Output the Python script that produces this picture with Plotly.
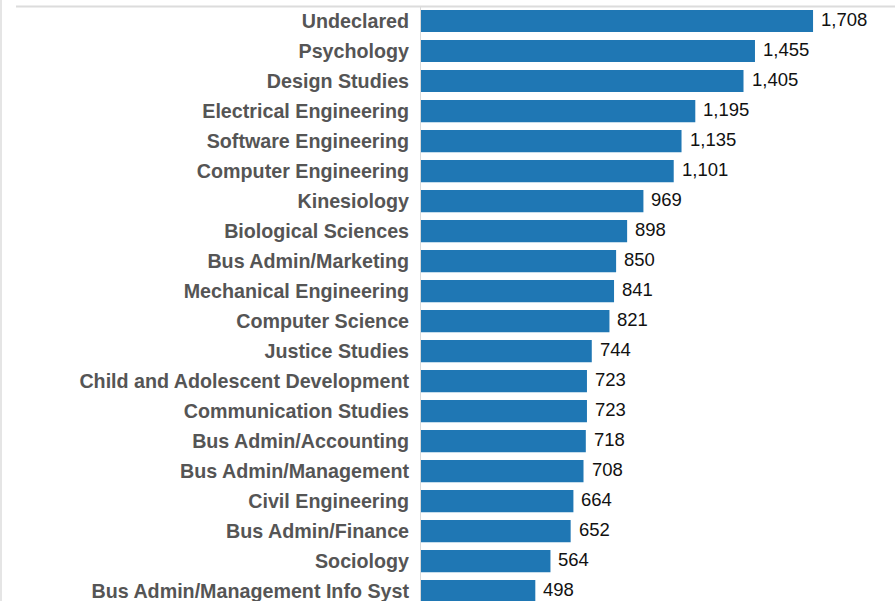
import plotly.graph_objects as go

majors = ["Undeclared", "Psychology", "Design Studies", "Electrical Engineering",
          "Software Engineering", "Computer Engineering", "Kinesiology",
          "Biological Sciences", "Bus Admin/Marketing", "Mechanical Engineering",
          "Computer Science", "Justice Studies", "Child and Adolescent Development",
          "Communication Studies", "Bus Admin/Accounting", "Bus Admin/Management",
          "Civil Engineering", "Bus Admin/Finance", "Sociology",
          "Bus Admin/Management Info Syst"]
counts = [1708, 1455, 1405, 1195, 1135, 1101, 969, 898, 850, 841,
          821, 744, 723, 723, 718, 708, 664, 652, 564, 498]

W, H = 895, 601
fig = go.Figure()
fig.add_trace(go.Bar(
    x=counts, y=majors, orientation="h",
    marker=dict(color="#1f77b4", line=dict(width=0)),
    hoverinfo="skip",
))
for m, c in zip(majors, counts):
    fig.add_annotation(x=c, y=m, text=f"{c:,}", showarrow=False,
                       xanchor="left", yanchor="middle", xshift=6, yshift=2,
                       font=dict(family="Arial, Liberation Sans, sans-serif", size=18.5, color="#111111"))

fig.update_layout(
    width=W, height=H,
    margin=dict(l=0, r=0, t=0, b=0),
    paper_bgcolor="white", plot_bgcolor="white",
    bargap=0.26,
    showlegend=False,
    xaxis=dict(domain=[421 / W, 1], range=[0, 2065], visible=False, fixedrange=True),
    yaxis=dict(domain=[0, (H - 7) / H], type="category",
               range=[19.33, -0.467], autorange=False,
               showline=True, linecolor="#d9d9d9", linewidth=1,
               showgrid=False, zeroline=False, ticks="", ticklabelstandoff=7,
               automargin=False, fixedrange=True,
               tickfont=dict(family="Arial, Liberation Sans, sans-serif", size=19.7, color="#555555", weight="bold")),
    shapes=[
        dict(type="line", xref="paper", yref="paper", x0=16 / W, x1=1,
             y0=(H - 6.5) / H, y1=(H - 6.5) / H, line=dict(color="#dcdcdc", width=2)),
        dict(type="line", xref="paper", yref="paper", x0=1 / W, x1=1 / W,
             y0=0, y1=1, line=dict(color="#dcdcdc", width=1.5)),
    ],
)
fig.write_html("out.html", config={"displayModeBar": False},
               post_script="document.body.style.margin='0';document.body.style.overflow='hidden';")
